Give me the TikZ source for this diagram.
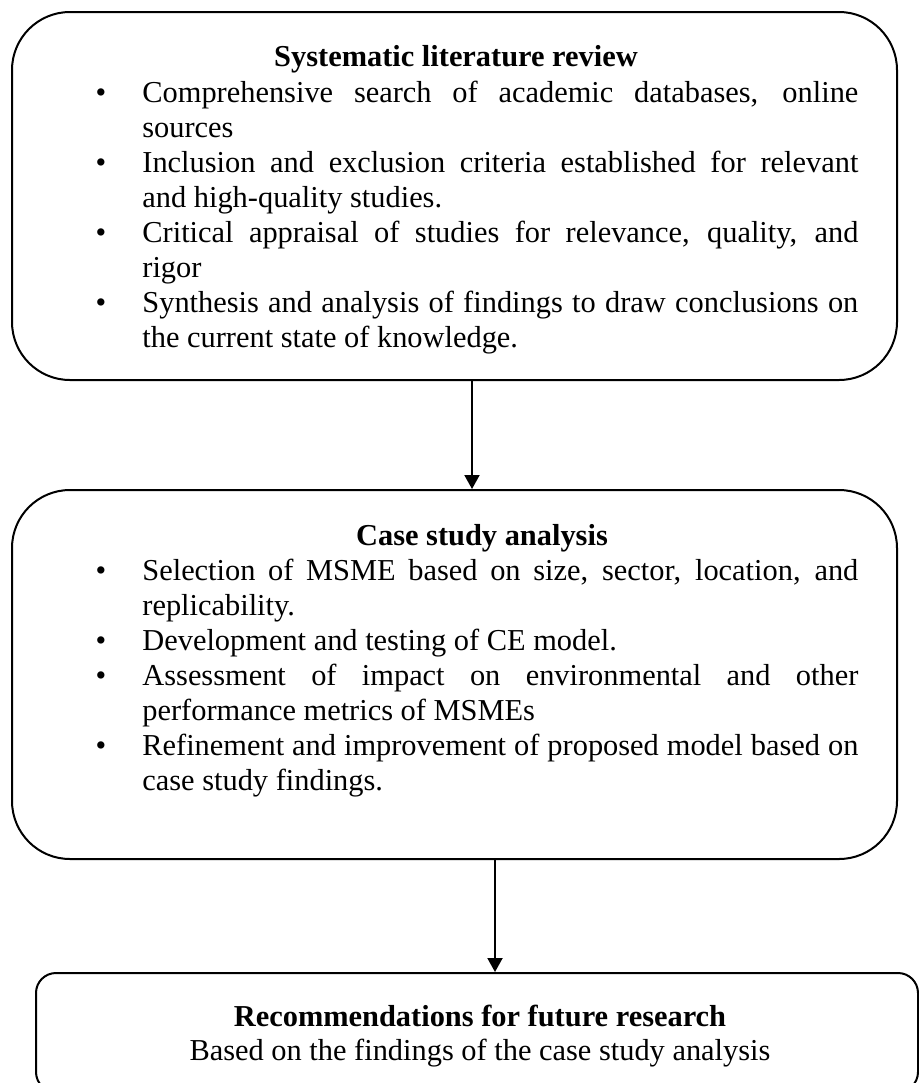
\documentclass[tikz,border=0pt]{standalone}
\usepackage{fontspec}
\setmainfont{Liberation Serif}
\usetikzlibrary{arrows.meta}
\newcommand{\jline}[1]{\makebox[358pt][s]{#1}}
\newcommand{\myfont}{\fontsize{15.2pt}{17.5pt}\selectfont}
\tikzset{
  box/.style={draw, line width=1pt, rounded corners=29pt, inner sep=0pt},
  smallbox/.style={draw, line width=1pt, rounded corners=10pt, inner sep=0pt},
  txt/.style={anchor=base west, inner sep=0pt, font=\myfont},
  ttl/.style={anchor=base, inner sep=0pt, font=\myfont\bfseries},
  ctr/.style={anchor=base, inner sep=0pt, font=\myfont},
  bul/.style={anchor=base, inner sep=0pt, font=\myfont},
  arr/.style={-{Triangle[length=7pt,width=7.5pt]}, line width=1pt}
}
\begin{document}
\begin{tikzpicture}[x=0.5pt, y=-0.5pt]
\useasboundingbox (0,0) rectangle (919,1083);
% boxes
\node[box, minimum width=442.5pt, minimum height=184pt] (b1) at (454.5,196) {};
\node[box, minimum width=442.5pt, minimum height=184.5pt] (b2) at (454.5,674.5) {};
\node[smallbox, minimum width=441pt, minimum height=59.5pt] (b3) at (477,1032.5) {};
% box 1 text
\node[ttl] (t1) at (456,66) {Systematic literature review};
\node[bul] (u11) at (101,102) {\textbullet};
\node[txt] (l11) at (142,102) {\jline{Comprehensive search of academic databases, online}};
\node[txt] (l12) at (142,137) {sources};
\node[bul] (u12) at (101,172) {\textbullet};
\node[txt] (l13) at (142,172) {\jline{Inclusion and exclusion criteria established for relevant}};
\node[txt] (l14) at (142,207) {and high-quality studies.};
\node[bul] (u13) at (101,242) {\textbullet};
\node[txt] (l15) at (142,242) {\jline{Critical appraisal of studies for relevance, quality, and}};
\node[txt] (l16) at (142,277) {rigor};
\node[bul] (u14) at (101,312) {\textbullet};
\node[txt] (l17) at (142,312) {\jline{Synthesis and analysis of findings to draw conclusions on}};
\node[txt] (l18) at (142,347) {the current state of knowledge.};
% box 2 text
\node[ttl] (t2) at (482,545) {Case study analysis};
\node[bul] (u21) at (101,580) {\textbullet};
\node[txt] (l21) at (142,580) {\jline{Selection of MSME based on size, sector, location, and}};
\node[txt] (l22) at (142,615) {replicability.};
\node[bul] (u22) at (101,650) {\textbullet};
\node[txt] (l23) at (142,650) {Development and testing of CE model.};
\node[bul] (u23) at (101,685) {\textbullet};
\node[txt] (l24) at (142,685) {\jline{Assessment of impact on environmental and other}};
\node[txt] (l25) at (142,720) {performance metrics of MSMEs};
\node[bul] (u24) at (101,755) {\textbullet};
\node[txt] (l26) at (142,755) {\jline{Refinement and improvement of proposed model based on}};
\node[txt] (l27) at (142,790) {case study findings.};
% box 3 text
\node[ttl] (t3) at (480,1026) {Recommendations for future research};
\node[ctr] (l31) at (480,1060) {Based on the findings of the case study analysis};
% arrows
\draw[arr] ([xshift=8.75pt]b1.south) -- ([xshift=8.75pt]b2.north);
\draw[arr] ([xshift=20.25pt]b2.south) -- ([xshift=9pt]b3.north);
\end{tikzpicture}
\end{document}
